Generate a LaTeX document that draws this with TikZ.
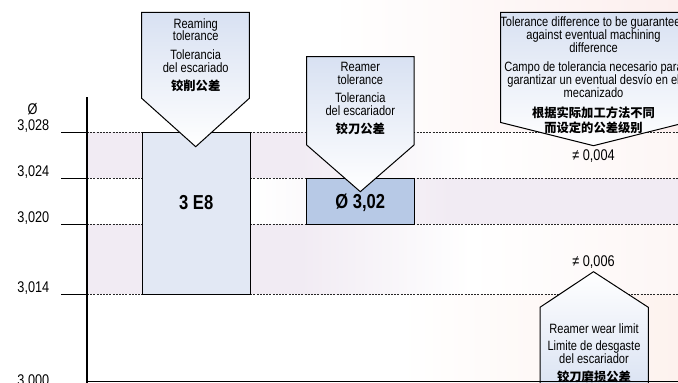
\documentclass[tikz,border=0pt]{standalone}
\usepackage{fontspec}
\setmainfont{Liberation Sans}[FakeStretch=0.82]
\newfontfamily\cjk{Noto Sans CJK SC}
\definecolor{lav}{RGB}{241,235,243}
\definecolor{pinkbg}{RGB}{252,239,238}
\definecolor{peach}{RGB}{253,242,238}
\definecolor{lpink}{RGB}{253,246,245}
\definecolor{boxa}{RGB}{226,232,244}
\definecolor{boxb}{RGB}{183,201,230}
\definecolor{callblue}{RGB}{216,225,242}
\begin{document}
\begin{tikzpicture}[x=1pt,y=-1pt,
  txt/.style={anchor=base,inner sep=0pt,font=\fontsize{13.5}{13}\selectfont},
  cjkt/.style={anchor=center,inner sep=0pt,font=\fontsize{12.3}{13}\selectfont\cjk\bfseries},
  lbl/.style={anchor=base east,inner sep=0pt,font=\fontsize{15.5}{15}\selectfont},
  diff/.style={anchor=base,inner sep=0pt,font=\fontsize{15.5}{15}\selectfont},
  big/.style={anchor=center,inner sep=0pt,font=\fontsize{20.2}{20}\selectfont\bfseries},
  dashline/.style={line width=0.8pt,black!85,dash pattern=on 2pt off 1.2pt},
  tick/.style={line width=1pt,black},
  boxline/.style={draw=black,line width=1pt},
  callout/.style={draw=black,line width=1pt,top color=callblue,bottom color=white},
  calloutup/.style={draw=black,line width=1pt,top color=white,bottom color=callblue}]
\useasboundingbox (0,0) rectangle (678,383);
\clip (0,0) rectangle (678,383);
% background
\fill[white] (0,0) rectangle (678,383);
\shade[left color=white,right color=pinkbg] (330,0) rectangle (678,132.3);
\fill[lav] (87,132.3) rectangle (301,178.3);
\shade[left color=lav,right color=white] (300,132.3) rectangle (471,178.3);
\shade[left color=white,right color=lpink] (470,132.3) rectangle (678,178.3);
\shade[left color=white,right color=lav] (250,178.3) rectangle (451,224);
\fill[lav] (450,178.3) rectangle (678,224);
\fill[lav] (87,224) rectangle (301,294);
\shade[left color=lav,right color=white] (300,224) rectangle (471,294);
\shade[left color=white,right color=lpink] (470,224) rectangle (678,294);
\shade[left color=white,right color=peach] (400,294) rectangle (678,383);
% levels
\coordinate (ax28) at (87,132.3); \coordinate (r28) at (678,132.3); \coordinate (t28) at (61,132.3);
\coordinate (ax24) at (87,178.3); \coordinate (r24) at (678,178.3); \coordinate (t24) at (61,178.3);
\coordinate (ax20) at (87,224);   \coordinate (r20) at (678,224);   \coordinate (t20) at (61,224);
\coordinate (ax14) at (87,294);   \coordinate (r14) at (678,294);   \coordinate (t14) at (61,294);
\foreach \n in {28,24,20,14}{
  \draw[dashline] (ax\n) -- (r\n);
  \draw[tick] (t\n) -- (ax\n);
}
% labels
\node[anchor=base,inner sep=0pt,font=\fontsize{15.5}{15}\selectfont] (phi) at (32.5,114.5) {Ø};
\node[lbl] (l28) at (49.5,130.8) {3,028};
\node[lbl] (l24) at (49.5,176.8) {3,024};
\node[lbl] (l20) at (49.5,222.8) {3,020};
\node[lbl] (l14) at (49.5,292.8) {3,014};
\node[lbl] (l00) at (49.5,385.6) {3,000};
% boxes
\draw[boxline,fill=boxa] (142.3,132.3) rectangle (250,294);
\node[big] (e8) at (196.2,202.5) {3 E8};
\draw[boxline,fill=boxb] (306.7,178.3) rectangle (414,224);
\node[big] (d302) at (360.3,202.5) {Ø 3,02};
% callout 1
\draw[callout] (141.7,12.3) -- (249.3,12.3) -- (249.3,98.3) -- (195.7,146.7) -- (141.7,98.3) -- cycle;
\node[txt] (c1a) at (195.7,28.3) {Reaming};
\node[txt] (c1b) at (195.7,40.7) {tolerance};
\node[txt] (c1c) at (195.7,59.3) {Tolerancia};
\node[txt] (c1d) at (195.7,72.7) {del escariado};
\node[cjkt] (c1e) at (195.7,85.5) {铰削公差};
% callout 2
\draw[callout] (306.7,56.7) -- (414,56.7) -- (414,145) -- (360.3,191.7) -- (306.7,145) -- cycle;
\node[txt] (c2a) at (360.3,71.7) {Reamer};
\node[txt] (c2b) at (360.3,84.5) {tolerance};
\node[txt] (c2c) at (360.3,102.7) {Tolerancia};
\node[txt] (c2d) at (360.3,115.5) {del escariador};
\node[cjkt] (c2e) at (360.3,129) {铰刀公差};
% callout 3
\draw[callout] (500.7,12.3) -- (686,12.3) -- (686,122.5) -- (593.5,145.7) -- (500.7,122.5) -- cycle;
\node[txt] (c3a) at (593.5,26.5) {Tolerance difference to be guaranteed};
\node[txt] (c3b) at (593.5,39.5) {against eventual machining};
\node[txt] (c3c) at (593.5,52.5) {difference};
\node[txt] (c3d) at (593.5,71.5) {Campo de tolerancia necesario para};
\node[txt] (c3e) at (593.5,84.5) {garantizar un eventual desvío en el};
\node[txt] (c3f) at (593.5,97.5) {mecanizado};
\node[cjkt] (c3g) at (593.5,112.5) {根据实际加工方法不同};
\node[cjkt] (c3h) at (593.5,127.5) {而设定的公差级别};
% differences
\node[diff] (d004) at (593.5,160.7) {≠ 0,004};
\node[diff] (d006) at (593.5,266.3) {≠ 0,006};
% callout 4
\draw[calloutup] (540,395) -- (540,307.3) -- (593.5,271.7) -- (648.3,307.3) -- (648.3,395);
\node[txt] (c4a) at (594,333.3) {Reamer wear limit};
\node[txt] (c4b) at (594,350.5) {Limite de desgaste};
\node[txt] (c4c) at (594,363) {del escariador};
\node[cjkt] (c4d) at (594,376.5) {铰刀磨损公差};
% axis
\coordinate (axtop) at (87,97);
\coordinate (axbot) at (87,382.5);
\coordinate (bright) at (680,381.7);
\draw[line width=1.5pt] (86,381.7) -- (bright);
\draw[line width=2.5pt] (axtop) -- (axbot);
\end{tikzpicture}
\end{document}
